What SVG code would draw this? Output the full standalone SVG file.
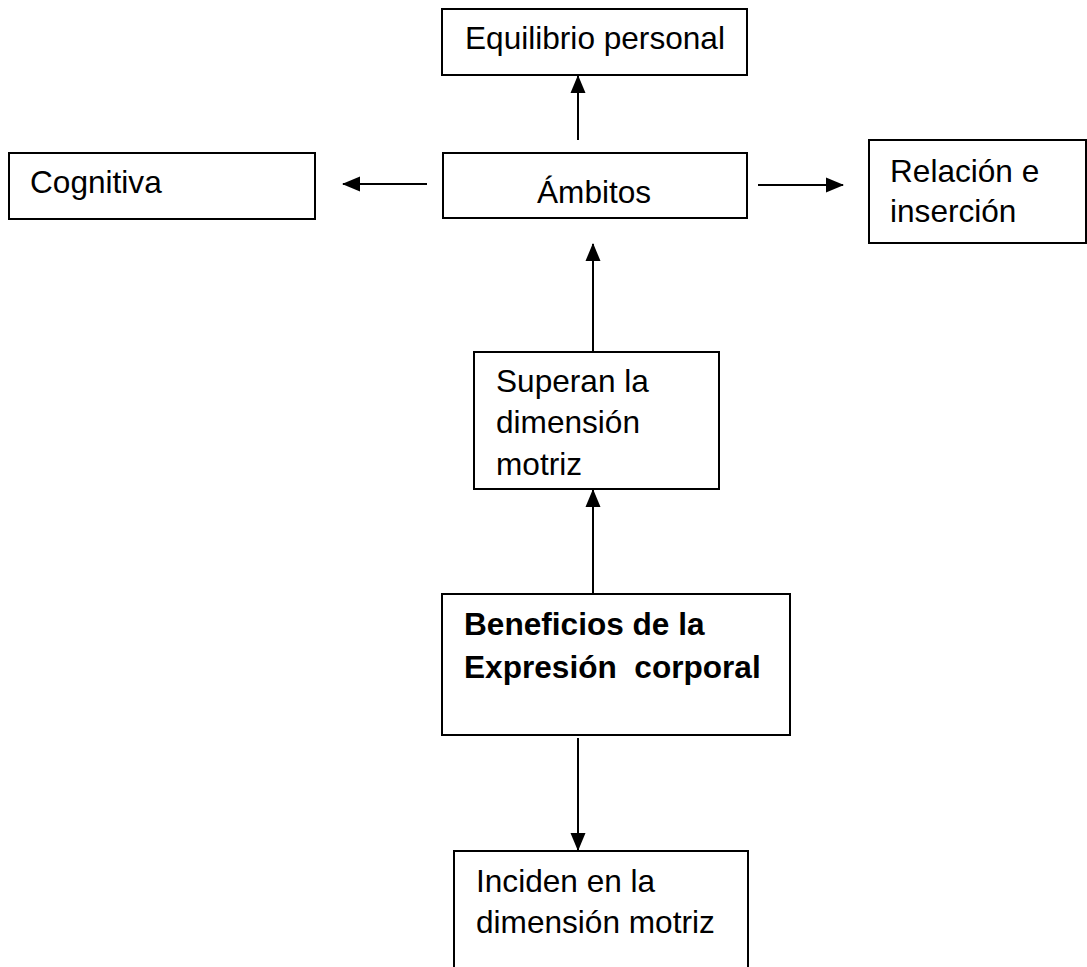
<svg xmlns="http://www.w3.org/2000/svg" width="1087" height="967" viewBox="0 0 1087 967">
<style>
.box{fill:#fff;stroke:#000;stroke-width:2}
.t{font-family:"Liberation Sans",Arial,sans-serif;font-size:31.6px;fill:#000}
.b{font-weight:bold}
.c{fill:none;stroke:#000;stroke-width:2}
</style>
<defs>
<marker id="ah" markerUnits="userSpaceOnUse" markerWidth="18" markerHeight="18" viewBox="0 0 18 18" refX="17" refY="9" orient="auto">
<path d="M0,1.5 L18,9 L0,16.5 Z" fill="#000"/>
</marker>
</defs>
<rect width="1087" height="967" fill="#fff"/>
<g id="connectors">
<line class="c" x1="578" y1="140" x2="578" y2="76" marker-end="url(#ah)"/>
<line class="c" x1="427" y1="184" x2="343" y2="184" marker-end="url(#ah)"/>
<line class="c" x1="758" y1="185" x2="843" y2="185" marker-end="url(#ah)"/>
<line class="c" x1="593" y1="352" x2="593" y2="244" marker-end="url(#ah)"/>
<line class="c" x1="593" y1="594" x2="593" y2="490" marker-end="url(#ah)"/>
<line class="c" x1="578" y1="738" x2="578" y2="850" marker-end="url(#ah)"/>
</g>
<g id="equilibrio">
<rect class="box" x="442" y="9" width="305" height="66"/>
<text class="t" x="465" y="49">Equilibrio personal</text>
</g>
<g id="ambitos">
<rect class="box" x="443" y="153" width="304" height="65"/>
<text class="t" x="537" y="203">Ámbitos</text>
</g>
<g id="cognitiva">
<rect class="box" x="9" y="153" width="306" height="66"/>
<text class="t" x="30" y="193">Cognitiva</text>
</g>
<g id="relacion">
<rect class="box" x="869" y="140" width="217" height="103"/>
<text class="t" x="890" y="182">Relación e</text>
<text class="t" x="890" y="222">inserción</text>
</g>
<g id="superan">
<rect class="box" x="474" y="352" width="245" height="137"/>
<text class="t" x="496" y="392">Superan la</text>
<text class="t" x="496" y="433">dimensión</text>
<text class="t" x="496" y="475">motriz</text>
</g>
<g id="beneficios">
<rect class="box" x="442" y="594" width="348" height="141"/>
<text class="t b" x="464" y="635">Beneficios de la</text>
<text class="t b" x="464" y="678" xml:space="preserve">Expresión  corporal</text>
</g>
<g id="inciden">
<rect class="box" x="454" y="851" width="294" height="130"/>
<text class="t" x="476" y="892">Inciden en la</text>
<text class="t" x="476" y="933">dimensión motriz</text>
</g>
</svg>
